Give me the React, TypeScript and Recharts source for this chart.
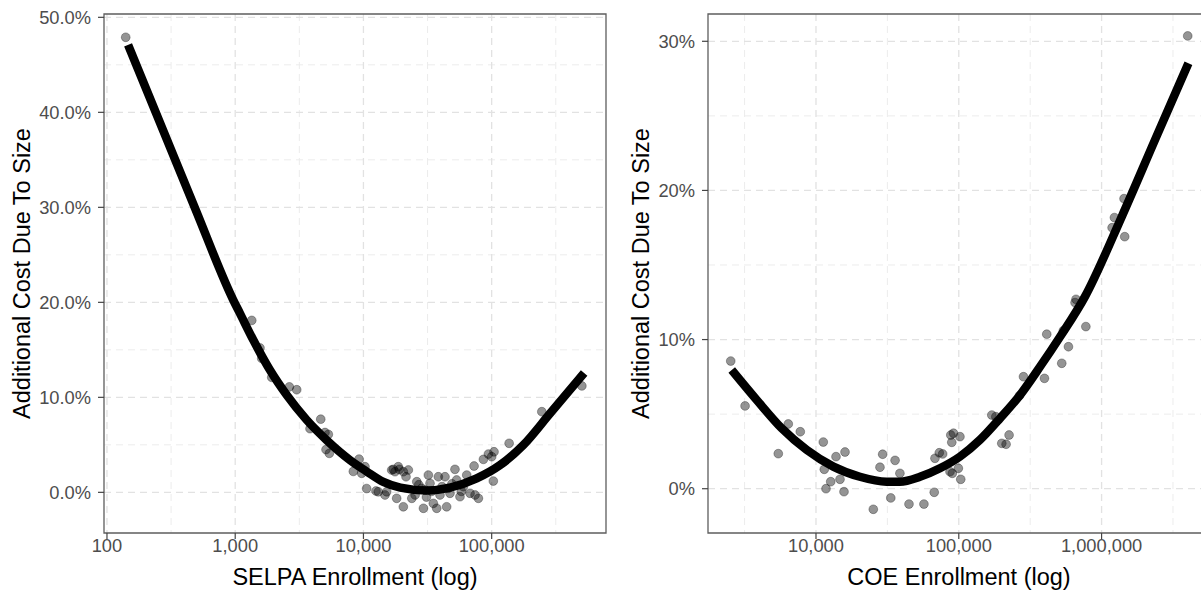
import React from 'react';
import { ComposedChart, Scatter, Line, XAxis, YAxis, CartesianGrid, ReferenceArea } from 'recharts';

const FONT = '"Liberation Sans", Arial, Helvetica, sans-serif';

// ---------- SELPA panel ----------
const selpaEnrollment = [
  140, 1346, 1560, 1610, 1927, 2644, 3018, 3831, 4645, 5015, 5324, 5107, 5419, 8340, 9240, 9690,
  10280, 10590, 12520, 13050, 14720, 15180, 16600, 17620, 18160, 18700, 17100, 19050, 20470, 22400,
  21480, 20470, 23830, 25290, 26060, 29370, 28510, 30200, 32070, 33050, 35080, 37260, 38380, 39540,
  43250, 44560, 45900, 47300, 51730, 53300, 56600, 60100, 63900, 67800, 72900, 74200, 78800, 86200,
  94300, 100000, 104300, 103000, 136800, 246000, 505000, 27000, 31000, 34000, 41000, 49000, 58000,
];
const selpaCost = [
  0.479, 0.181, 0.152, 0.141, 0.121, 0.111, 0.108, 0.067, 0.077, 0.063, 0.061, 0.045, 0.041, 0.022, 0.035, 0.020,
  0.027, 0.004, 0.0014, 0.0006, -0.0028, 0.0006, 0.0235, 0.0217, -0.0063, 0.027, 0.0242, 0.0242, 0.0217, 0.0235,
  0.0164, -0.0152, -0.0063, -0.0028, 0.0112, -0.0168, 0.0042, 0.0024, 0.0182, 0.0095, -0.0116, -0.0168, 0.0164, -0.0028,
  0.0164, -0.0152, 0.0042, -0.001, 0.0242, 0.013, -0.0046, 0.0059, 0.0182, -0.001, 0.0277, -0.0028, -0.0063, 0.0347,
  0.0403, 0.0375, 0.0427, 0.0119, 0.0516, 0.0849, 0.112, 0.008, -0.005, 0.001, 0.006, 0.009, 0.001,
];
const selpaFitEnrollment = [146, 483, 966, 1089, 1384, 1866, 2521, 3612, 5160, 7850, 10590, 14290, 19400, 31100, 47300, 76400, 116400, 176600, 286000, 526000];
const selpaFitCost = [0.471, 0.3, 0.2024, 0.1884, 0.1603, 0.1287, 0.1024, 0.0761, 0.055, 0.034, 0.022, 0.011, 0.005, 0.002, 0.005, 0.0147, 0.0287, 0.0498, 0.0832, 0.1256];
const selpaXTicks = [100, 1000, 10000, 100000];
const selpaXMinor = [316.23, 3162.3, 31623, 316228];
const selpaYTicks = [0, 0.1, 0.2, 0.3, 0.4, 0.5];
const selpaYMinor = [0.05, 0.15, 0.25, 0.35, 0.45];
const selpaXDomain = [94.8, 779000];
const selpaYDomain = [-0.0428, 0.5035];

// ---------- COE panel ----------
const coeEnrollment = [
  2529, 3187, 5445, 6398, 7762, 11250, 11430, 11750, 12680, 13810, 14730, 15710, 15970, 25200, 28060, 29300,
  33400, 35800, 38700, 44800, 57000, 67300, 68100, 73000, 77100, 86800, 90100, 89300, 87900, 91800, 101900,
  99300, 103200, 170300, 181700, 200000, 214400, 225000, 266000, 283800, 398000, 413000, 526000, 540000,
  586000, 776000, 652000, 662000, 1436000, 1230000, 1185000, 1452000, 4010000,
];
const coeCost = [
  0.0856, 0.0555, 0.0235, 0.0434, 0.0382, 0.0313, 0.013, 0.0, 0.0047, 0.0215, 0.0063, -0.002, 0.0246, -0.0138, 0.0144, 0.0231,
  -0.0062, 0.019, 0.0103, -0.0103, -0.0103, -0.0024, 0.0204, 0.0241, 0.0233, 0.0114, 0.0103, 0.0311, 0.036, 0.0372, 0.0349,
  0.0137, 0.0063, 0.0494, 0.0483, 0.0304, 0.0298, 0.036, 0.0624, 0.0751, 0.074, 0.1036, 0.0841, 0.106,
  0.0952, 0.1087, 0.1248, 0.127, 0.1945, 0.1818, 0.175, 0.169, 0.3036,
];
const coeFitEnrollment = [2570, 3846, 5754, 8610, 13230, 20300, 31200, 38700, 53500, 73800, 101900, 140600, 194400, 268500, 370800, 512000, 765000, 1384000, 2366000, 4056000];
const coeFitCost = [0.0796, 0.0595, 0.0405, 0.026, 0.0148, 0.008, 0.0047, 0.0047, 0.008, 0.0137, 0.0215, 0.0327, 0.0472, 0.0628, 0.0818, 0.1019, 0.1288, 0.1824, 0.2339, 0.2853];
const coeXTicks = [10000, 100000, 1000000];
const coeXMinor = [3162.3, 31623, 316228, 3162278];
const coeYTicks = [0, 0.1, 0.2, 0.3];
const coeYMinor = [0.05, 0.15, 0.25];
const coeXDomain = [1753, 5800000];
const coeYDomain = [-0.0297, 0.3183];

const zip = (xs: number[], ys: number[]) => xs.map((x, i) => ({ x, y: ys[i] }));

const fmtInt = (v: number) => Math.round(v).toLocaleString('en-US');
const fmtPct1 = (v: number) => (v * 100).toFixed(1) + '%';
const fmtPct0 = (v: number) => (v * 100).toFixed(0) + '%';

const Dot = (p: any) => (
  <circle cx={p.cx} cy={p.cy} r={4.4} fill="#000" fillOpacity={0.42} stroke="#000" strokeOpacity={0.3} strokeWidth={1} />
);

const XTitle = (p: any) => (
  <text x={p.tx} y={585} textAnchor="middle" fontSize={23.5} fill="#000" fontFamily={FONT}>
    {p.txt}
  </text>
);

const YTitle = (p: any) => (
  <text transform={`translate(${p.tx},273.5) rotate(-90)`} textAnchor="middle" fontSize={23.5} fill="#000" fontFamily={FONT}>
    {p.txt}
  </text>
);

const tickStyle = { fill: '#4d4d4d', fontSize: 18.3, fontFamily: FONT };

function Panel(props: any) {
  const {
    left, width, marginRight, points, curve, xDomain, xTicks, xMinor, yDomain, yTicks, yMinor, yFmt,
    xTitle, xTitleX, yTitleX,
  } = props;
  return (
    <div style={{ position: 'absolute', left, top: 0 }}>
      <ComposedChart width={width} height={590} margin={{ top: 14, right: marginRight, bottom: 0, left: 0 }}>
        <CartesianGrid horizontalValues={yMinor} verticalValues={xMinor} stroke="#ececec" strokeDasharray="7 5" strokeWidth={1} />
        <CartesianGrid horizontalValues={yTicks} verticalValues={xTicks} stroke="#e2e2e2" strokeDasharray="7 5" strokeWidth={1.3} />
        <XAxis
          type="number"
          dataKey="x"
          scale="log"
          domain={xDomain}
          allowDataOverflow
          ticks={xTicks}
          interval={0}
          tickFormatter={fmtInt}
          height={57}
          axisLine={false}
          tickLine={{ stroke: '#444', strokeWidth: 1.2 }}
          tickSize={6}
          tickMargin={0}
          tick={tickStyle}
          label={<XTitle tx={xTitleX} txt={xTitle} />}
        />
        <YAxis
          type="number"
          dataKey="y"
          domain={yDomain}
          allowDataOverflow
          ticks={yTicks}
          interval={0}
          tickFormatter={yFmt}
          width={104}
          axisLine={false}
          tickLine={{ stroke: '#444', strokeWidth: 1.2 }}
          tickSize={6}
          tickMargin={7}
          tick={tickStyle}
          label={<YTitle tx={yTitleX} txt="Additional Cost Due To Size" />}
        />
        <ReferenceArea
          x1={xDomain[0]}
          x2={xDomain[1]}
          y1={yDomain[0]}
          y2={yDomain[1]}
          fill="none"
          fillOpacity={0}
          stroke="#5e5e5e"
          strokeWidth={1.3}
          ifOverflow="visible"
        />
        <Line
          data={curve}
          dataKey="y"
          type="monotone"
          stroke="#000"
          strokeWidth={8.5}
          strokeLinecap="butt"
          dot={false}
          activeDot={false}
          isAnimationActive={false}
        />
        <Scatter data={points} dataKey="y" shape={Dot} isAnimationActive={false} />
      </ComposedChart>
    </div>
  );
}

export default function App() {
  return (
    <div style={{ position: 'absolute', left: 0, top: 0, width: 1201, height: 590, overflow: 'hidden', background: '#fff' }}>
      <Panel
        left={0}
        width={610}
        marginRight={4}
        points={zip(selpaEnrollment, selpaCost)}
        curve={zip(selpaFitEnrollment, selpaFitCost)}
        xDomain={selpaXDomain}
        xTicks={selpaXTicks}
        xMinor={selpaXMinor}
        yDomain={selpaYDomain}
        yTicks={selpaYTicks}
        yMinor={selpaYMinor}
        yFmt={fmtPct1}
        xTitle="SELPA Enrollment (log)"
        xTitleX={355}
        yTitleX={30}
      />
      <Panel
        left={604}
        width={609}
        marginRight={2.4}
        points={zip(coeEnrollment, coeCost)}
        curve={zip(coeFitEnrollment, coeFitCost)}
        xDomain={coeXDomain}
        xTicks={coeXTicks}
        xMinor={coeXMinor}
        yDomain={coeYDomain}
        yTicks={coeYTicks}
        yMinor={coeYMinor}
        yFmt={fmtPct0}
        xTitle="COE Enrollment (log)"
        xTitleX={355}
        yTitleX={45}
      />
    </div>
  );
}
